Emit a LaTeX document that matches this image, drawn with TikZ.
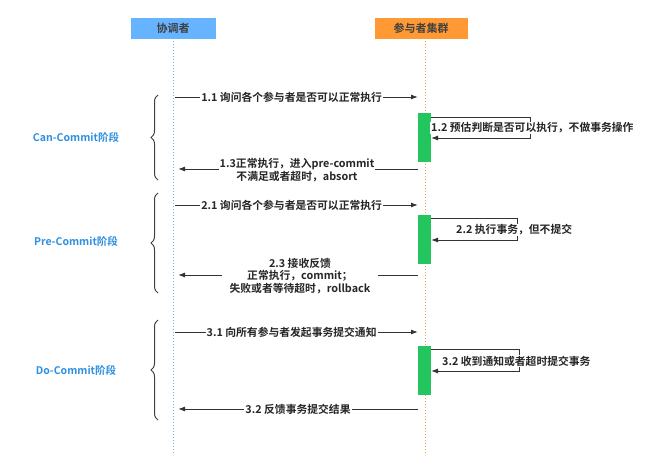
\documentclass[tikz,border=0pt]{standalone}
\usepackage{fontspec}
\setmainfont{Noto Sans CJK SC}[BoldFont={* Bold}]
\usetikzlibrary{decorations.pathreplacing,arrows.meta}
\definecolor{gbar}{HTML}{22C55E}
\definecolor{cblue}{HTML}{66B3FF}
\definecolor{porange}{HTML}{FF9933}
\definecolor{ptext}{HTML}{2F8FE0}
\begin{document}
\begin{tikzpicture}[x=1pt,y=-1pt,font=\fontsize{10.8}{12.5}\selectfont\bfseries,
 msg/.style={draw=black!80,line width=1pt,-{Latex[length=7pt,width=5pt]}},
 lbl/.style={fill=white,inner sep=1pt,align=center,text=black!85},
 bar/.style={fill=gbar,draw=none},
 head/.style={minimum height=21pt,font=\fontsize{11}{12}\selectfont\bfseries,text=black!75},
 phase/.style={text=ptext,font=\fontsize{10.5}{12}\selectfont\bfseries},
 br/.style={decorate,decoration={brace,amplitude=7pt},draw=black!75,line width=1pt}]
\useasboundingbox (0,0) rectangle (650,466);
\node[head,fill=cblue,minimum width=85pt] (C) at (173,28) {协调者};
\node[head,fill=porange,minimum width=93pt] (P) at (421,28) {参与者集群};
\coordinate (Ce) at (173,455); \coordinate (Pe) at (425,455);
\draw[dotted,draw=cblue,line width=1pt] (173,38) -- (Ce);
\draw[dotted,draw=porange,line width=1pt] (425,38) -- (Pe);
% bars
\fill[bar] (418,113) rectangle (431,162);
\fill[bar] (418,215) rectangle (431,264);
\fill[bar] (418,346) rectangle (431,395);
% braces
\draw[br] (158,180) -- (158,95);
\draw[br] (158,293) -- (158,193);
\draw[br] (158,420) -- (158,320);
\node[phase] (p1) at (76,137) {Can-Commit阶段};
\node[phase] (p2) at (76,241) {Pre-Commit阶段};
\node[phase] (p3) at (76,370) {Do-Commit阶段};
% phase 1
\coordinate (a1) at (175,97); \coordinate (b1) at (418,97);
\draw[msg] (a1) -- (b1) node[lbl,pos=0.48] {1.1 询问各个参与者是否可以正常执行};
\coordinate (l1a) at (431,117); \coordinate (l1b) at (431,138);
\draw[msg] (l1a) -- (530,117) -- (530,138) -- (l1b);
\node[lbl,anchor=west,fill=white] at (430,128) {1.2 预估判断是否可以执行，不做事务操作};
\coordinate (a3) at (418,169); \coordinate (b3) at (178,169);
\draw[msg] (a3) -- (b3);
\node[lbl] at (297,170) {1.3正常执行，进入pre-commit\\不满足或者超时，absort};
% phase 2
\coordinate (a21) at (175,205); \coordinate (b21) at (418,205);
\draw[msg] (a21) -- (b21) node[lbl,pos=0.48] {2.1 询问各个参与者是否可以正常执行};
\coordinate (l2a) at (431,218); \coordinate (l2b) at (431,240);
\draw[msg] (l2a) -- (517,218) -- (517,240) -- (l2b);
\node[lbl,anchor=west] at (455,230) {2.2 执行事务，但不提交};
\coordinate (a23) at (418,275); \coordinate (b23) at (178,275);
\draw[msg] (a23) -- (b23);
\node[lbl,fill=white,inner xsep=8pt] at (300,276) {2.3 接收反馈\\正常执行，commit；\\失败或者等待超时，rollback};
% phase 3
\coordinate (a31) at (175,332); \coordinate (b31) at (418,332);
\draw[msg] (a31) -- (b31) node[lbl,pos=0.48] {3.1 向所有参与者发起事务提交通知};
\coordinate (l3a) at (431,349); \coordinate (l3b) at (431,371);
\draw[msg] (l3a) -- (519,349) -- (519,371) -- (l3b);
\node[lbl,anchor=west] at (441,361) {3.2 收到通知或者超时提交事务};
\coordinate (a32) at (418,409); \coordinate (b32) at (178,409);
\draw[msg] (a32) -- (b32) node[lbl,pos=0.5] {3.2 反馈事务提交结果};
\end{tikzpicture}
\end{document}
